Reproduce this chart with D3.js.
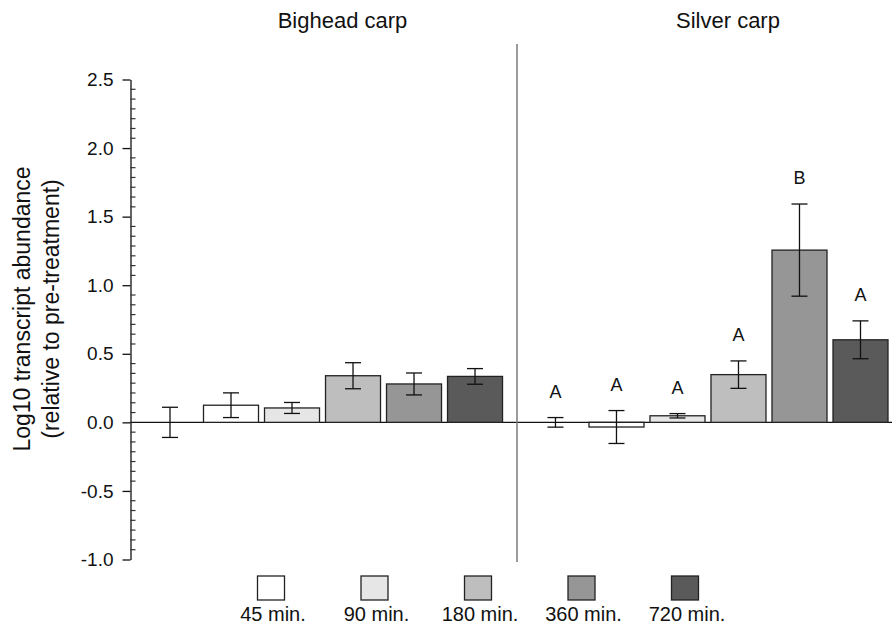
<!DOCTYPE html>
<html>
<head>
<meta charset="utf-8">
<script src="https://cdn.jsdelivr.net/npm/d3@7"></script>
<style>
  body { margin: 0; background: #fff; }
  text { font-family: "Liberation Sans", Arial, sans-serif; fill: #111; }
</style>
</head>
<body>
<script>
// values
const groups = ['Bighead carp', 'Silver carp']
const times = ['0', '45', '90', '180', '360', '720']
const legendLabels = ['45 min.', '90 min.', '180 min.', '360 min.', '720 min.']
const fills = ['#ffffff', '#ffffff', '#e6e6e6', '#bebebe', '#969696', '#5a5a5a']

const bigheadMean = [0, 0.125, 0.105, 0.34, 0.28, 0.335]
const bigheadErr = [0.11, 0.09, 0.04, 0.095, 0.08, 0.057]
const silverMean = [0, -0.034, 0.048, 0.348, 1.256, 0.602]
const silverErr = [0.035, 0.12, 0.016, 0.1, 0.336, 0.138]
const silverLetters = ['A', 'A', 'A', 'A', 'B', 'A']

const yTicks = [-1.0, -0.5, 0.0, 0.5, 1.0, 1.5, 2.0, 2.5]

const width = 892
const height = 636

const rows = [
  ...times.map((t, i) => ({ g: groups[0], t, i, v: bigheadMean[i], e: bigheadErr[i], l: null })),
  ...times.map((t, i) => ({ g: groups[1], t, i, v: silverMean[i], e: silverErr[i], l: silverLetters[i] }))
]

const svg = d3.select('body')
  .append('svg')
  .attr('width', width)
  .attr('height', height)

const y = d3.scaleLinear()
  .domain([-1, 2.5])
  .range([559.5, 79.5])

const xGroup = d3.scaleBand()
  .domain(groups)
  .range([142.5, 888])
  .paddingInner(0.066)

const x = d3.scaleBand()
  .domain(times)
  .range([0, xGroup.bandwidth()])
  .paddingInner(6 / 61)

const cx = d => xGroup(d.g) + x(d.t) + x.bandwidth() / 2

// y axis
const axisX = 130.5
const yAxis = svg.append('g')
  .attr('transform', `translate(${axisX},0)`)
  .call(d3.axisLeft(y)
    .tickValues(yTicks)
    .tickSize(8)
    .tickSizeOuter(0)
    .tickPadding(9)
    .tickFormat(d => d.toFixed(1)))
yAxis.selectAll('path, line').attr('stroke', '#111').attr('stroke-width', 1.3)
yAxis.selectAll('text')
  .style('font-family', '"Liberation Sans", Arial, sans-serif')
  .style('font-size', '19px')
  .attr('fill', '#111')

// minor ticks, 7 steps per half unit, pointing inward
const minor = d3.pairs(yTicks).flatMap(([a, b]) => d3.range(1, 7).map(k => a + (b - a) * k / 7))
svg.append('g')
  .selectAll('line')
  .data(minor)
  .join('line')
  .attr('x1', axisX)
  .attr('x2', axisX + 5)
  .attr('y1', d => y(d))
  .attr('y2', d => y(d))
  .attr('stroke', '#333')
  .attr('stroke-width', 1.2)

// zero line
svg.append('line')
  .attr('x1', axisX)
  .attr('x2', width)
  .attr('y1', y(0))
  .attr('y2', y(0))
  .attr('stroke', '#111')
  .attr('stroke-width', 1.2)

// divider between species
svg.append('line')
  .attr('x1', 517)
  .attr('x2', 517)
  .attr('y1', 44)
  .attr('y2', 562)
  .attr('stroke', '#7a7a7a')
  .attr('stroke-width', 1.5)

// group titles
svg.append('g')
  .selectAll('text')
  .data(groups)
  .join('text')
  .attr('x', g => xGroup(g) + xGroup.bandwidth() / 2 + 20)
  .attr('y', 28)
  .attr('text-anchor', 'middle')
  .style('font-size', '22px')
  .text(g => g)

// bars
svg.append('g')
  .selectAll('rect')
  .data(rows.filter(d => d.v !== 0))
  .join('rect')
  .attr('x', d => xGroup(d.g) + x(d.t))
  .attr('y', d => y(Math.max(0, d.v)))
  .attr('width', x.bandwidth())
  .attr('height', d => Math.abs(y(d.v) - y(0)))
  .attr('fill', d => fills[d.i])
  .attr('stroke', '#222')
  .attr('stroke-width', 1.3)

// error bars
const err = svg.append('g')
  .attr('stroke', '#111')
  .attr('stroke-width', 1.3)
  .selectAll('g')
  .data(rows)
  .join('g')
err.append('line')
  .attr('x1', cx).attr('x2', cx)
  .attr('y1', d => y(d.v + d.e))
  .attr('y2', d => y(d.v - d.e))
err.append('line')
  .attr('x1', d => cx(d) - 8).attr('x2', d => cx(d) + 8)
  .attr('y1', d => y(d.v + d.e)).attr('y2', d => y(d.v + d.e))
err.append('line')
  .attr('x1', d => cx(d) - 8).attr('x2', d => cx(d) + 8)
  .attr('y1', d => y(d.v - d.e)).attr('y2', d => y(d.v - d.e))

// significance letters
svg.append('g')
  .selectAll('text')
  .data(rows.filter(d => d.l))
  .join('text')
  .attr('x', cx)
  .attr('y', d => y(d.v + d.e) - 20)
  .attr('text-anchor', 'middle')
  .style('font-size', '18px')
  .text(d => d.l)

// y axis title
const yTitle = svg.append('text')
  .attr('transform', 'translate(30,309) rotate(-90)')
  .attr('text-anchor', 'middle')
  .style('font-size', '23px')
yTitle.append('tspan').attr('x', 0).attr('dy', 0).text('Log10 transcript abundance')
yTitle.append('tspan').attr('x', 0).attr('dy', 29).text('(relative to pre-treatment)')

// legend
const lx = d3.scalePoint()
  .domain(legendLabels)
  .range([271, 685])

const legend = svg.append('g')
  .selectAll('g')
  .data(legendLabels)
  .join('g')
  .attr('transform', d => `translate(${lx(d)},0)`)
legend.append('rect')
  .attr('x', -13.5)
  .attr('y', 576)
  .attr('width', 27)
  .attr('height', 24)
  .attr('fill', (d, i) => fills[i + 1])
  .attr('stroke', '#222')
  .attr('stroke-width', 1.3)
legend.append('text')
  .attr('x', 2)
  .attr('y', 621)
  .attr('text-anchor', 'middle')
  .style('font-size', '20px')
  .text(d => d)
</script>
</body>
</html>
